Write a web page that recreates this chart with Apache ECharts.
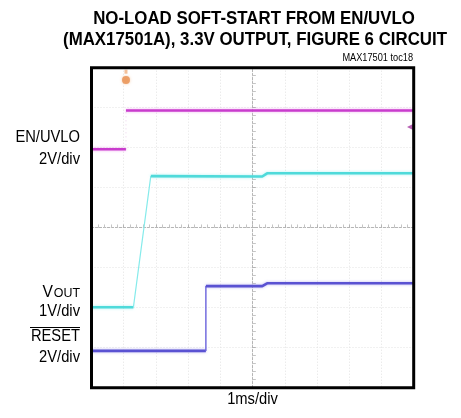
<!DOCTYPE html>
<html>
<head>
<meta charset="utf-8">
<script src="https://cdn.jsdelivr.net/npm/echarts@6/dist/echarts.min.js"></script>
<style>
  html, body { margin: 0; padding: 0; background: #fff; }
  #chart { width: 461px; height: 418px; }
</style>
</head>
<body>
<div id="chart"></div>
<script>
// ---- Data (time in ms, 1 ms/div; vertical position in screen divisions, 0..8 from bottom) ----
const titleLines = ['NO-LOAD SOFT-START FROM EN/UVLO', '(MAX17501A), 3.3V OUTPUT, FIGURE 6 CIRCUIT'];
const tocLabel = 'MAX17501 toc18';
const timeLabel = '1ms/div';
const timeRange = [0, 10];
const divRange = [0, 8];

// EN/UVLO (2V/div)
const enLow  = [[0, 5.96], [1.07, 5.96]];
const enEdge = [[1.07, 5.96], [1.07, 6.93]];
const enHigh = [[1.07, 6.93], [10, 6.93]];

// VOUT (1V/div)
const voutLow  = [[0, 2.01], [1.30, 2.01]];
const voutRamp = [[1.30, 2.01], [1.57, 3.65], [1.84, 5.29]];
const voutHigh = [[1.84, 5.29], [5.30, 5.28], [5.45, 5.36], [10, 5.36]];

// RESET (2V/div)
const resetLow  = [[0, 0.92], [3.55, 0.92]];
const resetEdge = [[3.55, 0.92], [3.55, 2.54]];
const resetHigh = [[3.55, 2.54], [5.30, 2.54], [5.45, 2.61], [10, 2.61]];

// scope markers
const triggerMarker = [[1.07, 7.69]];
const triggerTick = [[1.07, 7.9]];
const enRefMarker = [[9.9, 6.52]];

// ---- Chart ----
const chart = echarts.init(document.getElementById('chart'), null, { renderer: 'canvas' });

const G = { left: 91.5, right: 47.3, top: 67.7, bottom: 30.3 };
const FONT = 'Liberation Sans, Arial, Helvetica, sans-serif';

function lineSeries(data, color, width, extra) {
  return Object.assign({
    type: 'line', xAxisIndex: 0, yAxisIndex: 0, data: data,
    symbol: 'none', silent: true, animation: false, z: 5,
    lineStyle: { color: color, width: width }
  }, extra || {});
}

function txt(text, x, y, size, opts) {
  opts = opts || {};
  return {
    type: 'text', x: x, y: y, scaleX: opts.scaleX || 0.92, z: 100,
    style: {
      text: text, x: 0, y: 0,
      font: (opts.weight || 'normal') + ' ' + size + 'px ' + FONT,
      fill: opts.fill || '#000',
      textAlign: opts.align || 'center', align: opts.align || 'center',
      textVerticalAlign: 'middle', verticalAlign: 'middle'
    }
  };
}

const centerAxisStyle = { color: '#b5b5b5', width: 1, type: [2, 2] };

const option = {
  backgroundColor: '#fff',
  animation: false,
  grid: [
    Object.assign({ show: true, borderColor: '#000', borderWidth: 3, backgroundColor: 'transparent', z: 10 }, G),
    Object.assign({ show: false }, G)
  ],
  xAxis: [
    { type: 'value', gridIndex: 0, min: timeRange[0], max: timeRange[1], interval: 1,
      axisLine: { show: false }, axisTick: { show: false }, axisLabel: { show: false },
      splitLine: { show: true, lineStyle: { color: '#e2e2e2', width: 1, type: [1, 2] } } },
    { type: 'value', gridIndex: 1, min: -5, max: 5, interval: 1,
      axisLine: { show: true, onZero: true, lineStyle: centerAxisStyle },
      axisTick: { show: true, inside: true, length: 3, lineStyle: { color: '#b5b5b5' } },
      minorTick: { show: true, splitNumber: 5, length: 3, lineStyle: { color: '#c5c5c5' } },
      axisLabel: { show: false }, splitLine: { show: false } },
    { type: 'value', gridIndex: 1, min: -5, max: 5, interval: 1,
      axisLine: { show: true, onZero: true, lineStyle: centerAxisStyle },
      axisTick: { show: true, inside: false, length: 3, lineStyle: { color: '#b5b5b5' } },
      minorTick: { show: true, splitNumber: 5, length: 3, lineStyle: { color: '#c5c5c5' } },
      axisLabel: { show: false }, splitLine: { show: false } }
  ],
  yAxis: [
    { type: 'value', gridIndex: 0, min: divRange[0], max: divRange[1], interval: 1,
      axisLine: { show: false }, axisTick: { show: false }, axisLabel: { show: false },
      splitLine: { show: true, lineStyle: { color: '#e2e2e2', width: 1, type: [1, 2] } } },
    { type: 'value', gridIndex: 1, min: -4, max: 4, interval: 1,
      axisLine: { show: true, onZero: true, lineStyle: centerAxisStyle },
      axisTick: { show: true, inside: true, length: 3, lineStyle: { color: '#b5b5b5' } },
      minorTick: { show: true, splitNumber: 5, length: 3, lineStyle: { color: '#c5c5c5' } },
      axisLabel: { show: false }, splitLine: { show: false } },
    { type: 'value', gridIndex: 1, min: -4, max: 4, interval: 1,
      axisLine: { show: true, onZero: true, lineStyle: centerAxisStyle },
      axisTick: { show: true, inside: false, length: 3, lineStyle: { color: '#b5b5b5' } },
      minorTick: { show: true, splitNumber: 5, length: 3, lineStyle: { color: '#c5c5c5' } },
      axisLabel: { show: false }, splitLine: { show: false } }
  ],
  series: [
    // EN/UVLO
    lineSeries(enLow, '#c93ccd', 2.6, { lineStyle: { color: '#c93ccd', width: 2.6, shadowColor: 'rgba(230,120,230,0.6)', shadowBlur: 3 } }),
    lineSeries(enEdge, 'rgba(220,170,220,0.5)', 1, { lineStyle: { color: 'rgba(220,170,220,0.5)', width: 1, type: [1, 3] } }),
    lineSeries(enHigh, '#c93ccd', 2.6, { lineStyle: { color: '#c93ccd', width: 2.6, shadowColor: 'rgba(230,120,230,0.6)', shadowBlur: 3 } }),
    // VOUT
    lineSeries(voutLow, '#4fdada', 2.6, { lineStyle: { color: '#4fdada', width: 2.6, shadowColor: 'rgba(120,235,235,0.6)', shadowBlur: 3 } }),
    lineSeries(voutRamp, '#86ebeb', 1.2),
    lineSeries(voutHigh, '#4fdada', 2.6, { lineStyle: { color: '#4fdada', width: 2.6, shadowColor: 'rgba(120,235,235,0.6)', shadowBlur: 3 } }),
    // RESET
    lineSeries(resetLow, '#5a52d2', 2.6, { lineStyle: { color: '#5a52d2', width: 2.6, shadowColor: 'rgba(140,130,230,0.6)', shadowBlur: 3 } }),
    lineSeries(resetEdge, '#6a62dc', 1.4),
    lineSeries(resetHigh, '#5a52d2', 2.6, { lineStyle: { color: '#5a52d2', width: 2.6, shadowColor: 'rgba(140,130,230,0.6)', shadowBlur: 3 } }),
    // markers
    { type: 'scatter', xAxisIndex: 0, yAxisIndex: 0, data: triggerMarker, symbol: 'circle', symbolSize: 8,
      itemStyle: { color: '#e99050', shadowColor: 'rgba(240,170,110,0.7)', shadowBlur: 3 }, silent: true, animation: false, z: 6 },
    { type: 'scatter', xAxisIndex: 0, yAxisIndex: 0, data: triggerTick, symbol: 'rect', symbolSize: [3, 4],
      itemStyle: { color: '#f0b080' }, silent: true, animation: false, z: 6 },
    { type: 'scatter', xAxisIndex: 0, yAxisIndex: 0, data: enRefMarker, symbol: 'triangle', symbolRotate: 90, symbolSize: 7,
      itemStyle: { color: '#a53aa0' }, silent: true, animation: false, z: 6 }
  ],
  graphic: [
    txt(titleLines[0], 254, 18.7, 19, { weight: 'bold', scaleX: 0.887 }),
    txt(titleLines[1], 255, 39.3, 19, { weight: 'bold', scaleX: 0.887 }),
    txt(tocLabel, 413, 58.5, 10, { align: 'right', scaleX: 0.92 }),
    txt('EN/UVLO', 80, 137.5, 16, { align: 'right' }),
    txt('2V/div', 80, 160, 16, { align: 'right' }),
    txt('OUT', 80, 293.5, 13.5, { align: 'right' }),
    txt('V', 53, 292, 17, { align: 'right' }),
    txt('1V/div', 80, 311.7, 16, { align: 'right' }),
    txt('RESET', 80, 336.5, 16, { align: 'right' }),
    { type: 'line', z: 100, shape: { x1: 30, y1: 327.5, x2: 80, y2: 327.5 }, style: { stroke: '#000', lineWidth: 1.2 } },
    txt('2V/div', 80, 357.5, 16, { align: 'right' }),
    txt(timeLabel, 252.5, 399.7, 16, {})
  ]
};

chart.setOption(option);
</script>
</body>
</html>
